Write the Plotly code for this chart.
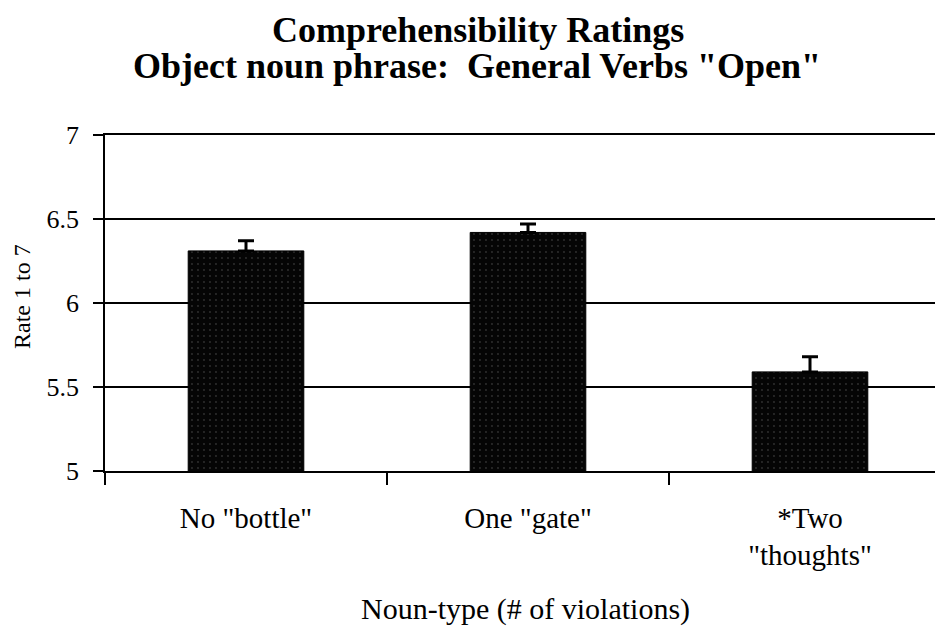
import plotly.graph_objects as go

# 데이터
categories = ['No "bottle"', 'One "gate"', '*Two<br>"thoughts"']
ratings = [6.31, 6.42, 5.59]
err_plus = [0.06, 0.05, 0.09]
y_ticks = [5, 5.5, 6, 6.5, 7]
y_tick_text = ["5", "5.5", "6", "6.5", "7"]

SERIF = "Liberation Serif, Times New Roman, serif"

# 페이지 body 여백(8px)을 감안한 플롯 영역: 화면 105..951 x 135..471
L, T, B = 97, 127, 167
PLOT_H = 630 - T - B


def py(screen_y):
    """화면 y 픽셀 -> paper 좌표"""
    return (630 - B - (screen_y - 8)) / PLOT_H


def px(screen_x):
    return (screen_x - 8 - L) / (943 - L)


fig = go.Figure(go.Bar(
    x=categories,
    y=ratings,
    width=0.41,
    marker=dict(
        color="black",
        line=dict(color="black", width=1),
        pattern=dict(shape=".", bgcolor="#050505", fgcolor="#5a5a5a",
                     size=6, solidity=0.08),
    ),
    error_y=dict(type="data", symmetric=False, array=err_plus,
                 arrayminus=[0] * len(err_plus),
                 color="black", thickness=3, width=8),
))

fig.update_layout(
    width=943, height=630,
    margin=dict(l=L, r=0, t=T, b=B),
    paper_bgcolor="white", plot_bgcolor="white",
    font=dict(family=SERIF, color="black", size=29),
    showlegend=False,
)

fig.update_xaxes(
    type="category",
    range=[-0.5, 2.5],
    tickson="boundaries",
    ticks="outside", ticklen=12, tickwidth=1.5, tickcolor="black",
    showline=True, linecolor="black", linewidth=1.5, mirror=True,
    showgrid=False,
    ticklabelstandoff=20,
    tickfont=dict(size=29),
)

fig.update_yaxes(
    range=[5, 7],
    tickvals=y_ticks, ticktext=y_tick_text,
    ticks="outside", ticklen=10, tickwidth=1.5, tickcolor="black",
    showline=True, linecolor="black", linewidth=1.5,
    showgrid=True, gridcolor="black", gridwidth=1.5,
    zeroline=False,
    ticklabelstandoff=9,
    tickfont=dict(size=26),
)

# 제목 (두 줄)
fig.add_annotation(text="<b>Comprehensibility Ratings</b>",
                   xref="paper", yref="paper", x=px(478), y=py(30),
                   xanchor="center", yanchor="middle", showarrow=False,
                   font=dict(family=SERIF, size=36))
fig.add_annotation(text="<b>Object noun phrase:  General Verbs \"Open\"</b>",
                   xref="paper", yref="paper", x=px(477), y=py(66),
                   xanchor="center", yanchor="middle", showarrow=False,
                   font=dict(family=SERIF, size=36))

# 축 제목
fig.add_annotation(text="Rate 1 to 7", textangle=-90,
                   xref="paper", yref="paper", x=px(22), y=py(297),
                   xanchor="center", yanchor="middle", showarrow=False,
                   font=dict(family=SERIF, size=24))
fig.add_annotation(text="Noun-type (# of violations)",
                   xref="paper", yref="paper", x=px(525), y=py(609),
                   xanchor="center", yanchor="middle", showarrow=False,
                   font=dict(family=SERIF, size=30))

fig.write_html("out.html")
